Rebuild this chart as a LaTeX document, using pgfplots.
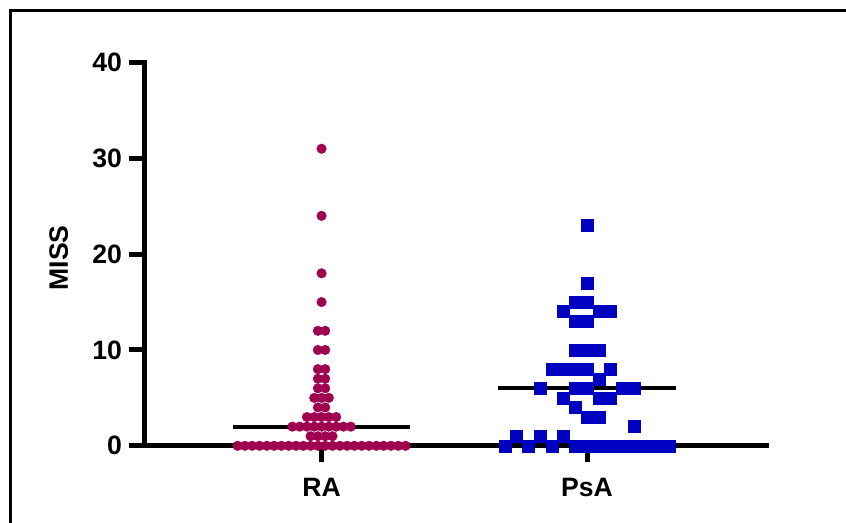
\documentclass[border=0pt]{standalone}
\usepackage{fontspec}
\setmainfont{Liberation Sans}
\usepackage{pgfplots}
\pgfplotsset{compat=1.18}
\definecolor{raColor}{RGB}{160,0,80}
\definecolor{psaColor}{RGB}{0,0,192}
\begin{document}
\begin{tikzpicture}
% outer frame of the figure (cut off on the right and at the bottom)
\draw[line width=1.15pt] (360pt,217.65pt) -- (-67.25pt,217.65pt) -- (-67.25pt,-60pt);
\begin{axis}[
    scale only axis,
    width=310.5pt, height=191.65pt,
    xmin=0.335, xmax=2.674,
    ymin=0, ymax=40,
    clip=false,
    axis x line*=bottom, axis y line*=left,
    axis line style={line width=2.5pt, line cap=rect, -},
    xtick={1,2}, xticklabels={RA,PsA},
    ytick={0,10,20,30,40},
    tick align=outside,
    major tick length=8pt,
    every tick/.style={black, line width=2.5pt},
    tick label style={font=\fontsize{13.3}{15}\selectfont\bfseries},
    xticklabel style={yshift=-4.5pt},
    /pgf/number format/assume math mode=true,
    ylabel={MISS},
    ylabel style={font=\fontsize{13.3}{15}\selectfont\bfseries,
        at={(axis description cs:-0.139,0.49)}, anchor=center},
]
% medians
\addplot[black, line width=2pt] coordinates {(0.666,2) (1.335,2)};
\addplot[black, line width=2pt] coordinates {(1.666,6) (2.335,6)};
% RA
\addplot[only marks, mark=*, mark size=2.4pt,
    mark options={fill=raColor, draw=raColor, line width=0.2pt}] coordinates {
 (0.68375,0) (0.71125,0) (0.73875,0) (0.76625,0) (0.79375,0) (0.82125,0)
 (0.84875,0) (0.87625,0) (0.90375,0) (0.93125,0) (0.95875,0) (0.98625,0)
 (1.01375,0) (1.04125,0) (1.06875,0) (1.09625,0) (1.12375,0) (1.15125,0)
 (1.17875,0) (1.20625,0) (1.23375,0) (1.26125,0) (1.28875,0) (1.31625,0)
 (0.95875,1) (0.98625,1) (1.01375,1) (1.04125,1)
 (0.89,2) (0.9175,2) (0.945,2) (0.9725,2) (1,2) (1.0275,2) (1.055,2) (1.0825,2) (1.11,2)
 (0.945,3) (0.9725,3) (1,3) (1.0275,3) (1.055,3)
 (0.98625,4) (1.01375,4)
 (0.9725,5) (1,5) (1.0275,5)
 (0.98625,6) (1.01375,6)
 (0.98625,7) (1.01375,7)
 (0.98625,8) (1.01375,8)
 (0.98625,10) (1.01375,10)
 (0.98625,12) (1.01375,12)
 (1,15) (1,18) (1,24) (1,31)
};
% PsA
\addplot[only marks, mark=square*, mark size=3pt,
    mark options={fill=psaColor, draw=psaColor, line width=0.2pt}] coordinates {
 (1.6902,0) (1.7787,0) (1.8672,0) (1.9557,0) (2,0) (2.0443,0) (2.0885,0)
 (2.1328,0) (2.1770,0) (2.2213,0) (2.2656,0) (2.3098,0)
 (1.7344,1) (1.8230,1) (1.9115,1)
 (2.1770,2)
 (2,3) (2.0443,3)
 (1.9557,4)
 (1.9115,5) (2.0443,5) (2.0885,5)
 (1.8230,6) (1.9557,6) (2,6) (2.1328,6) (2.1770,6)
 (2.0443,7)
 (1.8672,8) (1.9115,8) (1.9557,8) (2,8) (2.0885,8)
 (1.9557,10) (2,10) (2.0443,10)
 (1.9557,13) (2,13)
 (1.9115,14) (2.0443,14) (2.0885,14)
 (1.9557,15) (2,15)
 (2,17)
 (2,23)
};
\end{axis}
\pgfresetboundingbox
\useasboundingbox (-72.5pt,-38.6pt) rectangle (350.5pt,222.9pt);
\end{tikzpicture}
\end{document}
